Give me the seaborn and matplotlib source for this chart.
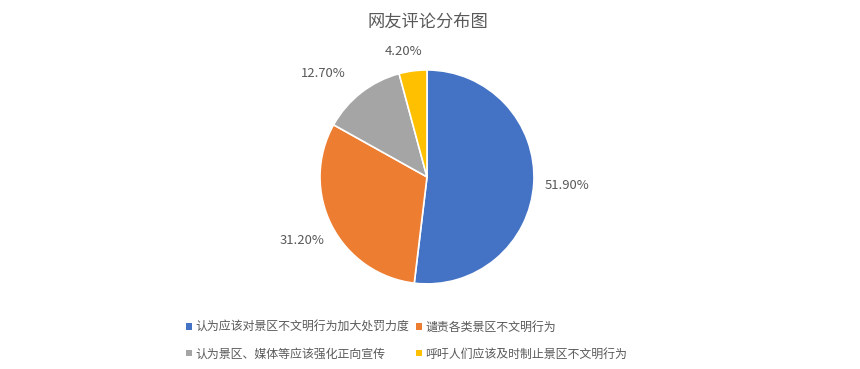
import numpy as np
import matplotlib
matplotlib.use("Agg")
import matplotlib.pyplot as plt
import seaborn as sns

categories = ["认为应该对景区不文明行为加大处罚力度", "谴责各类景区不文明行为",
              "认为景区、媒体等应该强化正向宣传", "呼吁人们应该及时制止景区不文明行为"]
values = [51.9, 31.2, 12.7, 4.2]
pct_labels = ["51.90%", "31.20%", "12.70%", "4.20%"]
colors = ["#4472C4", "#ED7D31", "#A5A5A5", "#FFC000"]
title = "网友评论分布图"

sns.set_theme(style="white")
plt.rcParams['font.family'] = ['Noto Sans CJK SC', 'DejaVu Sans']
txt = "#595959"

fig = plt.figure(figsize=(8.6, 3.69), dpi=100)
ax = fig.add_axes([0.341, 0.158, 0.311, 0.725])
pal = sns.color_palette(colors)
wedges, _ = ax.pie(values, colors=pal, startangle=90, counterclock=False,
                   wedgeprops=dict(edgecolor="white", linewidth=1.2))
ax.set_xlim(-1.25, 1.25)
ax.set_ylim(-1.25, 1.25)
ax.set_aspect("equal")

dists = [1.31, 1.31, 1.37, 1.19]
shifts = [0, 0, 7, 3]
for w, lab, d, s in zip(wedges, pct_labels, dists, shifts):
    ang = np.deg2rad((w.theta1 + w.theta2) / 2 + s)
    ax.text(d * np.cos(ang), d * np.sin(ang), lab, ha="center", va="center",
            fontsize=9.4, color=txt)

fig.text(0.497, 0.94, title, ha="center", va="center", fontsize=12.4, color=txt)

order = [0, 2, 1, 3]
leg = fig.legend([wedges[i] for i in order], [categories[i] for i in order],
                 loc="center", bbox_to_anchor=(0.473, 0.077), ncol=2, frameon=False,
                 fontsize=8.6, handlelength=0.45, handleheight=0.45, handletextpad=0.3,
                 columnspacing=0.6, labelspacing=1.15, labelcolor=txt)
for h in leg.legend_handles:
    h.set_edgecolor("none")

fig.savefig("out.png", dpi=100, facecolor="white")
